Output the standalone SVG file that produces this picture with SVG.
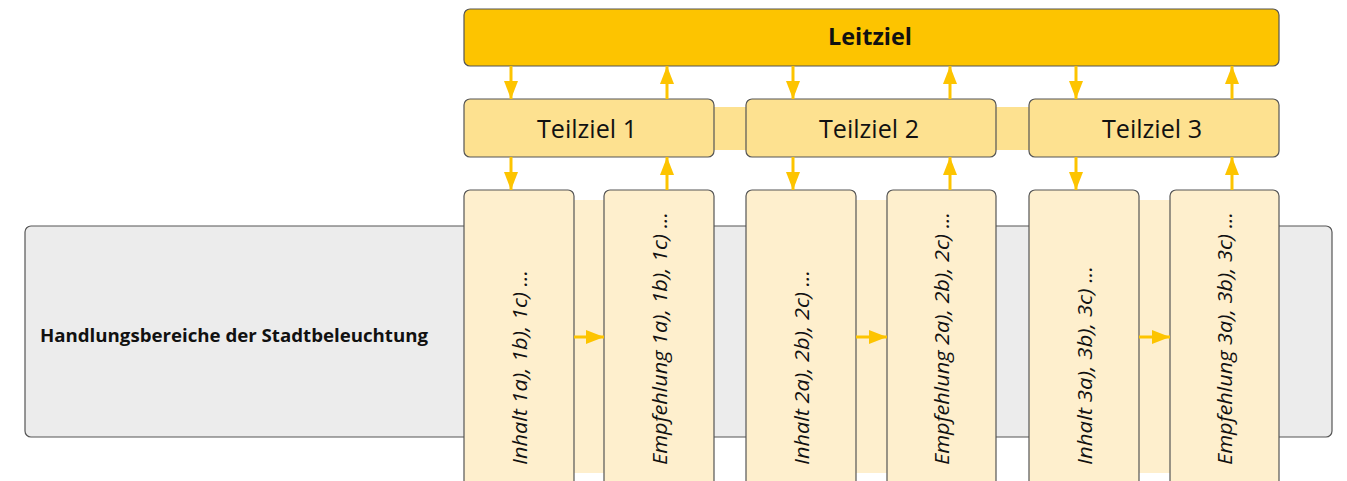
<svg xmlns="http://www.w3.org/2000/svg" width="1347" height="481" viewBox="0 0 1347 481">
<style>
.box{stroke:#555;stroke-width:1.2}
.lz{fill:#fdc400}
.tz{fill:#fde190}
.ih{fill:#feefcd}
.bg{fill:#ececec}
.band1{fill:#fde190}
.band2{fill:#feefcd}
.con{stroke:#fdc400;stroke-width:3;fill:none;marker-end:url(#ah)}
.t{font-family:"Open Sans","Noto Sans",sans-serif;fill:#111}
.vt{font-family:"Open Sans","Noto Sans",sans-serif;font-style:italic;font-size:20px;fill:#111}
</style>
<defs>
<marker id="ah" viewBox="0 0 18 14" refX="18" refY="7" markerWidth="18" markerHeight="14" markerUnits="userSpaceOnUse" orient="auto">
<path d="M0,0 L18,7 L0,14 z" fill="#fdc400"/>
</marker>
</defs>
<g id="handlungsbereiche">
<rect class="box bg" x="25" y="226" width="1307" height="211" rx="6"/>
<text class="t" x="40" y="342" font-size="18" font-weight="bold" textLength="388" lengthAdjust="spacingAndGlyphs">Handlungsbereiche der Stadtbeleuchtung</text>
</g>
<g id="bands">
<rect class="band1" x="714" y="107" width="32" height="43"/>
<rect class="band1" x="996" y="107" width="33" height="43"/>
<rect class="band2" x="574" y="200" width="30" height="273"/>
<rect class="band2" x="856" y="200" width="31" height="273"/>
<rect class="band2" x="1139" y="200" width="31" height="273"/>
</g>
<g id="leitziel">
<rect class="box lz" x="464" y="9" width="815" height="57" rx="6"/>
<text class="t" x="870" y="45" font-size="23" font-weight="bold" text-anchor="middle" textLength="84" lengthAdjust="spacingAndGlyphs">Leitziel</text>
</g>
<g id="teilziel1">
<rect class="box tz" x="464" y="99" width="250" height="58" rx="6"/>
<text class="t" x="587" y="138" font-size="25" text-anchor="middle" textLength="100" lengthAdjust="spacingAndGlyphs">Teilziel 1</text>
</g>
<g id="teilziel2">
<rect class="box tz" x="746" y="99" width="250" height="58" rx="6"/>
<text class="t" x="869" y="138" font-size="25" text-anchor="middle" textLength="100" lengthAdjust="spacingAndGlyphs">Teilziel 2</text>
</g>
<g id="teilziel3">
<rect class="box tz" x="1029" y="99" width="250" height="58" rx="6"/>
<text class="t" x="1152" y="138" font-size="25" text-anchor="middle" textLength="100" lengthAdjust="spacingAndGlyphs">Teilziel 3</text>
</g>
<g id="inhalt1">
<rect class="box ih" x="464" y="190" width="110" height="300" rx="6"/>
<text class="vt" transform="translate(527,465) rotate(-90)" textLength="195" lengthAdjust="spacingAndGlyphs">Inhalt 1a), 1b), 1c) ...</text>
</g>
<g id="empfehlung1">
<rect class="box ih" x="604" y="190" width="110" height="300" rx="6"/>
<text class="vt" transform="translate(667,465) rotate(-90)" textLength="253" lengthAdjust="spacingAndGlyphs">Empfehlung 1a), 1b), 1c) ...</text>
</g>
<g id="inhalt2">
<rect class="box ih" x="746" y="190" width="110" height="300" rx="6"/>
<text class="vt" transform="translate(809,465) rotate(-90)" textLength="195" lengthAdjust="spacingAndGlyphs">Inhalt 2a), 2b), 2c) ...</text>
</g>
<g id="empfehlung2">
<rect class="box ih" x="887" y="190" width="109" height="300" rx="6"/>
<text class="vt" transform="translate(949,465) rotate(-90)" textLength="253" lengthAdjust="spacingAndGlyphs">Empfehlung 2a), 2b), 2c) ...</text>
</g>
<g id="inhalt3">
<rect class="box ih" x="1029" y="190" width="110" height="300" rx="6"/>
<text class="vt" transform="translate(1092,465) rotate(-90)" textLength="199" lengthAdjust="spacingAndGlyphs">Inhalt 3a), 3b), 3c) ...</text>
</g>
<g id="empfehlung3">
<rect class="box ih" x="1170" y="190" width="109" height="300" rx="6"/>
<text class="vt" transform="translate(1232,465) rotate(-90)" textLength="253" lengthAdjust="spacingAndGlyphs">Empfehlung 3a), 3b), 3c) ...</text>
</g>
<g id="connectors">
<line class="con" x1="511" y1="66" x2="511" y2="99"/>
<line class="con" x1="667" y1="99" x2="667" y2="66"/>
<line class="con" x1="793" y1="66" x2="793" y2="99"/>
<line class="con" x1="950" y1="99" x2="950" y2="66"/>
<line class="con" x1="1076" y1="66" x2="1076" y2="99"/>
<line class="con" x1="1232" y1="99" x2="1232" y2="66"/>
<line class="con" x1="511" y1="157" x2="511" y2="190"/>
<line class="con" x1="667" y1="190" x2="667" y2="157"/>
<line class="con" x1="793" y1="157" x2="793" y2="190"/>
<line class="con" x1="950" y1="190" x2="950" y2="157"/>
<line class="con" x1="1076" y1="157" x2="1076" y2="190"/>
<line class="con" x1="1232" y1="190" x2="1232" y2="157"/>
<line class="con" x1="574" y1="337" x2="604" y2="337"/>
<line class="con" x1="856" y1="337" x2="887" y2="337"/>
<line class="con" x1="1139" y1="337" x2="1170" y2="337"/>
</g>
</svg>
